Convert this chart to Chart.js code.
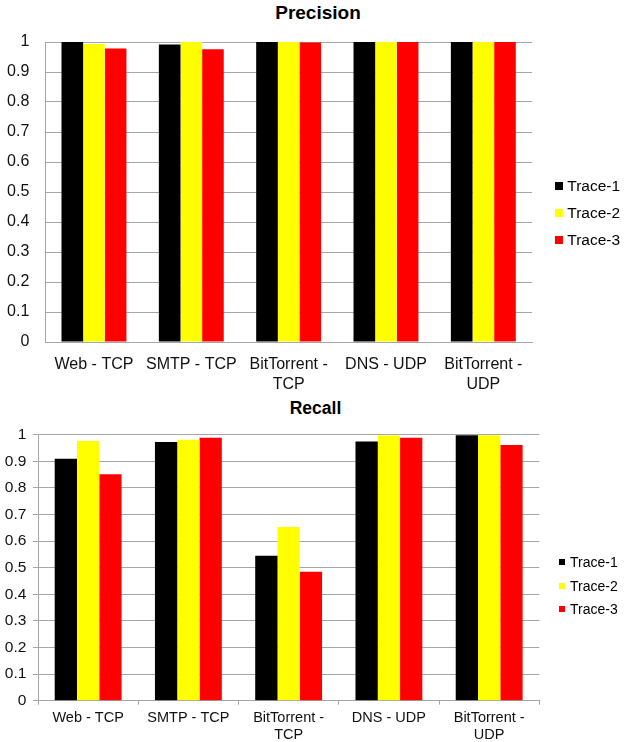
<!DOCTYPE html>
<html lang="en">
<head>
<meta charset="UTF-8">
<title>Precision and Recall per Traffic Class</title>
<script src="https://cdn.jsdelivr.net/npm/chart.js"></script>
<style>
  body {
    margin: 0;
    width: 624px;
    height: 742px;
    position: relative;
    overflow: hidden;
    background: #fff;
    font-family: "Liberation Sans", Arial, sans-serif;
  }
  canvas { position: absolute; left: 0; }
  .title {
    position: absolute;
    font-weight: bold;
    line-height: 1;
    white-space: nowrap;
    transform: translateX(-50%);
    color: #000;
  }
  .legend { position: absolute; }
  .legend .row { display: flex; align-items: center; color: #000; white-space: nowrap; }
  .legend .box { flex: none; display: inline-block; }
</style>
</head>
<body>

<div class="title" style="left:318px; top:3.4px; font-size:19px;">Precision</div>
<canvas id="precisionChart" width="624" height="395" style="top:0;"></canvas>
<div class="legend" id="precisionLegend" style="left:555px; top:172.5px;"></div>

<div class="title" style="left:315.5px; top:400.4px; font-size:17.5px;">Recall</div>
<canvas id="recallChart" width="624" height="347" style="top:395px;"></canvas>
<div class="legend" id="recallLegend" style="left:559.3px; top:550.6px;"></div>

<script>
  const categories = ['Web - TCP', 'SMTP - TCP', ['BitTorrent -', 'TCP'], 'DNS - UDP', ['BitTorrent -', 'UDP']];
  const traces = ['Trace-1', 'Trace-2', 'Trace-3'];
  const traceColors = ['#000000', '#ffff00', '#ff0000'];
  const yTicks = ['0', '0.1', '0.2', '0.3', '0.4', '0.5', '0.6', '0.7', '0.8', '0.9', '1'];

  // precision per trace
  const precision1 = [1.000, 0.992, 1.000, 1.000, 1.000];
  const precision2 = [0.993, 1.000, 1.000, 1.000, 1.000];
  const precision3 = [0.978, 0.976, 0.998, 1.000, 1.000];

  // recall per trace
  const recall1 = [0.910, 0.973, 0.545, 0.974, 0.998];
  const recall2 = [0.976, 0.981, 0.653, 0.997, 0.998];
  const recall3 = [0.851, 0.989, 0.485, 0.989, 0.961];

  const FONT = '"Liberation Sans", Arial, sans-serif';
  const INK = '#111';
  const GRID = '#a6a6a6';

  function barChart(id, series, o) {
    return new Chart(document.getElementById(id), {
      type: 'bar',
      data: {
        labels: categories,
        datasets: series.map((values, i) => ({
          label: traces[i],
          data: values,
          backgroundColor: traceColors[i],
          borderWidth: 0,
          categoryPercentage: 0.667,
          barPercentage: 1
        }))
      },
      options: {
        responsive: false,
        animation: false,
        layout: { padding: { left: 0, right: o.right, top: o.top, bottom: 0 } },
        plugins: {
          legend: { display: false },
          title: { display: false },
          tooltip: { enabled: false }
        },
        scales: {
          x: {
            afterFit: s => { s.height = o.xHeight; },
            grid: { drawOnChartArea: false, drawTicks: o.ticks, tickLength: 4, color: GRID },
            border: { color: GRID, width: 1 },
            ticks: {
              color: INK,
              font: { size: o.xFont, family: FONT },
              padding: o.xPad,
              maxRotation: 0,
              autoSkip: false
            }
          },
          y: {
            min: 0,
            max: 1,
            afterFit: s => { s.width = o.yWidth; },
            grid: { color: GRID, drawTicks: o.ticks, tickLength: 5 },
            border: { color: GRID },
            ticks: {
              stepSize: 0.1,
              color: INK,
              font: { size: o.yFont, family: FONT },
              padding: o.yPad,
              callback: (v, i) => yTicks[i]
            }
          }
        }
      }
    });
  }

  function legend(id, o) {
    const el = document.getElementById(id);
    traces.forEach((name, i) => {
      const row = document.createElement('div');
      row.className = 'row';
      row.style.height = o.row + 'px';
      row.style.fontSize = o.font + 'px';
      const box = document.createElement('span');
      box.className = 'box';
      box.style.width = o.box + 'px';
      box.style.height = o.box + 'px';
      box.style.background = traceColors[i];
      box.style.marginRight = o.gap + 'px';
      row.append(box, name);
      el.appendChild(row);
    });
  }

  barChart('precisionChart', [precision1, precision2, precision3], {
    right: 92, top: 42, xHeight: 53, yWidth: 45.3,
    xFont: 16, yFont: 16, xPad: 13.4, yPad: 16, ticks: false
  });
  barChart('recallChart', [recall1, recall2, recall3], {
    right: 84.7, top: 39.7, xHeight: 41.3, yWidth: 38,
    xFont: 14.5, yFont: 15.5, xPad: 4.6, yPad: 6.6, ticks: true
  });

  legend('precisionLegend', { row: 27, box: 8, gap: 4.3, font: 15.5 });
  legend('recallLegend', { row: 23.3, box: 6, gap: 4.7, font: 14 });
</script>
</body>
</html>
